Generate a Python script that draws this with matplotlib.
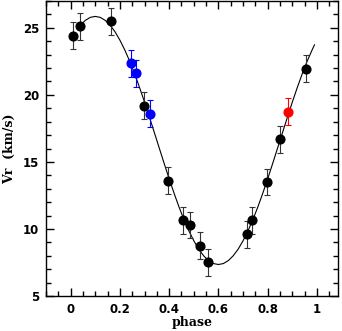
import matplotlib
matplotlib.use('Agg')
import matplotlib.pyplot as plt
from matplotlib.ticker import MultipleLocator

# measured radial velocities (phase, Vr, error) grouped by colour
black_phase = [0.011, 0.040, 0.163, 0.296, 0.396, 0.456, 0.483, 0.526, 0.556,
               0.714, 0.738, 0.796, 0.849, 0.956]
black_vr = [24.4, 25.1, 25.5, 19.2, 13.6, 10.65, 10.3, 8.75, 7.5,
            9.6, 10.65, 13.5, 16.7, 21.95]
black_err = [1.0] * len(black_phase)

blue_phase = [0.246, 0.264, 0.323]
blue_vr = [22.35, 21.6, 18.6]
blue_err = [1.0, 1.0, 1.0]

red_phase = [0.883]
red_vr = [18.75]
red_err = [1.0]

# orbit fit curve
curve_phase = [0.04, 0.06, 0.08, 0.10, 0.12, 0.14, 0.16, 0.18, 0.20, 0.22, 0.24,
               0.26, 0.28, 0.30, 0.32, 0.34, 0.36, 0.38, 0.40, 0.42, 0.44,
               0.46, 0.48, 0.50, 0.52, 0.54, 0.56, 0.58, 0.60, 0.62, 0.64,
               0.66, 0.68, 0.70, 0.72, 0.74, 0.76, 0.78, 0.80, 0.82, 0.84,
               0.86, 0.88, 0.90, 0.92, 0.94, 0.96, 0.98, 0.99]
curve_vr = [25.20, 25.56, 25.78, 25.85, 25.78, 25.56, 25.20, 24.71, 24.08, 23.34, 22.50,
            21.56, 20.54, 19.46, 18.33, 17.18, 16.02, 14.87, 13.74, 12.66, 11.64,
            10.70, 9.86, 9.12, 8.49, 8.00, 7.64, 7.42, 7.35, 7.42, 7.64,
            8.00, 8.49, 9.12, 9.86, 10.70, 11.64, 12.66, 13.74, 14.87, 16.02,
            17.18, 18.33, 19.46, 20.54, 21.56, 22.50, 23.34, 23.73]

fig = plt.figure(figsize=(3.42, 3.31), dpi=100)
ax = fig.add_axes([0.1345, 0.1057, 0.8535, 0.8913])

ax.plot(curve_phase, curve_vr, color='black', lw=0.8, zorder=1)

ax.errorbar(black_phase, black_vr, yerr=black_err, fmt='o', color='black',
            ecolor='#333333', elinewidth=0.8, capsize=2.5, capthick=0.8, ms=6.3, zorder=3)
ax.errorbar(blue_phase, blue_vr, yerr=blue_err, fmt='o', color='#0000ff',
            ecolor='#0000ff', elinewidth=0.8, capsize=2.5, capthick=0.8, ms=6.3, zorder=3)
ax.errorbar(red_phase, red_vr, yerr=red_err, fmt='o', color='#ff0000',
            ecolor='#ff0000', elinewidth=0.8, capsize=2.5, capthick=0.8, ms=6.3, zorder=3)

ax.set_xlim(-0.1, 1.085)
ax.set_ylim(5, 27)
ax.xaxis.set_major_locator(MultipleLocator(0.2))
ax.xaxis.set_minor_locator(MultipleLocator(0.05))
ax.yaxis.set_major_locator(MultipleLocator(5))
ax.yaxis.set_minor_locator(MultipleLocator(1))
ax.tick_params(which='both', direction='in', top=True, right=True, width=1)
ax.tick_params(which='major', length=6, labelsize=8.5, pad=5)
ax.tick_params(which='minor', length=3.5)
ax.set_xticks([0, 0.2, 0.4, 0.6, 0.8, 1.0])
ax.set_xticklabels(['0', '0.2', '0.4', '0.6', '0.8', '1'])
for lab in ax.get_xticklabels() + ax.get_yticklabels():
    lab.set_fontweight('bold')
for s in ax.spines.values():
    s.set_linewidth(1)

ax.set_xlabel('phase', fontsize=9, fontweight='bold', family='DejaVu Serif', labelpad=0)
ax.set_ylabel('Vr  (km/s)', fontsize=9, fontweight='bold', family='DejaVu Serif', labelpad=5)

fig.savefig('out.png', dpi=100)
